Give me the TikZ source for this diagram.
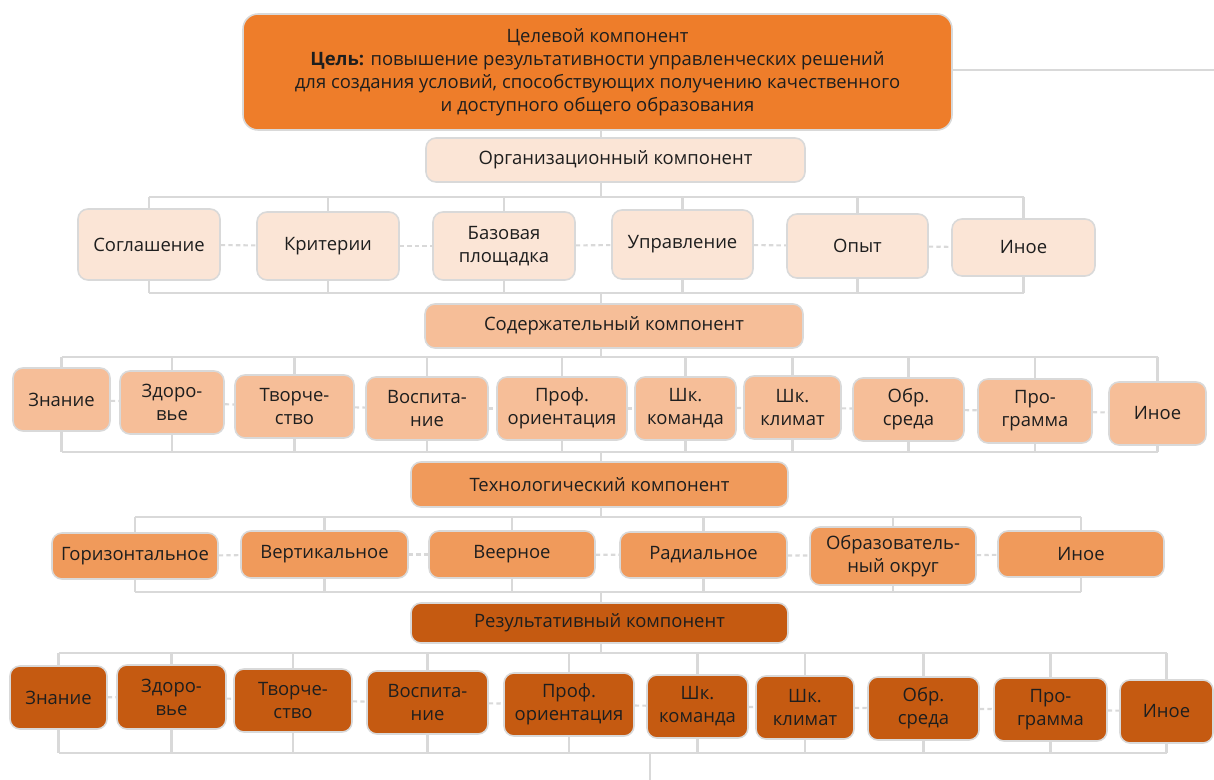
\documentclass[tikz,border=0pt]{standalone}
\usepackage{fontspec}
\setmainfont{Open Sans}
\usepackage{xcolor}
\usepackage{tikz}
\usetikzlibrary{backgrounds}
\definecolor{goalfill}{HTML}{EE7D2A}
\definecolor{orgfill}{HTML}{FBE5D6}
\definecolor{contfill}{HTML}{F6BE98}
\definecolor{techfill}{HTML}{F09A5B}
\definecolor{resfill}{HTML}{C55A11}
\definecolor{linkgray}{HTML}{D9D9D9}
\definecolor{inkgray}{HTML}{1E1E1E}

\begin{document}
\begin{tikzpicture}[x=0.02cm, y=-0.02cm,
  wh/.style 2 args={minimum width=#1*0.02cm, minimum height=#2*0.02cm},
  link/.style={draw=linkgray, line width=1.5pt},
  sib/.style={draw=linkgray, line width=1.2pt, dash pattern=on 2.5pt off 1.8pt}]
\tikzstyle{block} = [rectangle, draw=linkgray, line width=0.9pt, rounded corners=0.2cm, align=center, inner sep=1pt, text=inkgray, font=\fontsize{10.5}{13}\selectfont]
\useasboundingbox (0,0) rectangle (1214,780);

\node[block, wh={709}{116}, fill=goalfill, rounded corners=0.3cm] (goal) at (597.5,72) {Целевой компонент\\\textbf{Цель:} повышение результативности управленческих решений\\для создания условий, способствующих получению качественного\\и доступного общего образования};

\node[block, wh={379}{44}, fill=orgfill] (org) at (615.5,160) {Организационный компонент};
\node[block, wh={142}{71}, fill=orgfill] (a1) at (149,244.5) {Соглашение};
\node[block, wh={142}{68}, fill=orgfill] (a2) at (328,246) {Критерии};
\node[block, wh={142}{68}, fill=orgfill] (a3) at (504,246) {Базовая\\площадка};
\node[block, wh={141}{69}, fill=orgfill] (a4) at (682.5,244.5) {Управление};
\node[block, wh={141}{64}, fill=orgfill] (a5) at (857.5,246) {Опыт};
\node[block, wh={143}{57}, fill=orgfill] (a6) at (1023.5,247.5) {Иное};

\node[block, wh={378}{44}, fill=contfill] (cont) at (614,326) {Содержательный компонент};
\node[block, wh={97}{63}, fill=contfill] (b1) at (61.5,399.5) {Знание};
\node[block, wh={104}{63}, fill=contfill] (b2) at (172,402.5) {Здоро-\\вье};
\node[block, wh={119}{63}, fill=contfill] (b3) at (294.5,406.5) {Творче-\\ство};
\node[block, wh={122}{63}, fill=contfill] (b4) at (427,408.5) {Воспита-\\ние};
\node[block, wh={130}{63}, fill=contfill] (b5) at (562,408.5) {Проф.\\ориентация};
\node[block, wh={101}{63}, fill=contfill] (b6) at (685.5,408.5) {Шк.\\команда};
\node[block, wh={97}{63}, fill=contfill] (b7) at (792.5,407.5) {Шк.\\климат};
\node[block, wh={111}{63}, fill=contfill] (b8) at (908.5,409.5) {Обр.\\среда};
\node[block, wh={114}{64}, fill=contfill] (b9) at (1035,411) {Про-\\грамма};
\node[block, wh={97}{63}, fill=contfill] (b10) at (1157.5,413.5) {Иное};

\node[block, wh={377}{45}, fill=techfill] (tech) at (599.5,484.5) {Технологический компонент};
\node[block, wh={166}{46}, fill=techfill] (c1) at (135,556) {Горизонтальное};
\node[block, wh={167}{47}, fill=techfill] (c2) at (324.5,554.5) {Вертикальное};
\node[block, wh={166}{47}, fill=techfill] (c3) at (512,554.5) {Веерное};
\node[block, wh={167}{46}, fill=techfill] (c4) at (703.5,555) {Радиальное};
\node[block, wh={166}{58}, fill=techfill] (c5) at (893,556) {Образователь-\\ный округ};
\node[block, wh={166}{46}, fill=techfill] (c6) at (1081,554) {Иное};

\node[block, wh={377}{40}, fill=resfill] (res) at (599.5,623) {Результативный компонент};
\node[block, wh={97}{63}, fill=resfill] (d1) at (58.5,697.5) {Знание};
\node[block, wh={109}{64}, fill=resfill] (d2) at (171.5,697) {Здоро-\\вье};
\node[block, wh={118}{63}, fill=resfill] (d3) at (293,700.5) {Творче-\\ство};
\node[block, wh={121}{63}, fill=resfill] (d4) at (427.5,702.5) {Воспита-\\ние};
\node[block, wh={130}{63}, fill=resfill] (d5) at (569,704.5) {Проф.\\ориентация};
\node[block, wh={101}{63}, fill=resfill] (d6) at (697.5,706.5) {Шк.\\команда};
\node[block, wh={98}{63}, fill=resfill] (d7) at (805,707.5) {Шк.\\климат};
\node[block, wh={111}{63}, fill=resfill] (d8) at (923.5,708.5) {Обр.\\среда};
\node[block, wh={113}{63}, fill=resfill] (d9) at (1050.5,709.5) {Про-\\грамма};
\node[block, wh={93}{63}, fill=resfill] (d10) at (1166.5,711.5) {Иное};

\coordinate (sp) at (601,0);
\coordinate (rt) at (1214,0);
\coordinate (out) at (650,780);
\coordinate (t1) at (0,197); \coordinate (u1) at (0,293);
\coordinate (t2) at (0,357); \coordinate (u2) at (0,452);
\coordinate (t3) at (0,517); \coordinate (u3) at (0,592);
\coordinate (t4) at (0,653); \coordinate (u4) at (0,753);

\begin{scope}[on background layer]
\draw[link] (goal.center |- 0,70) -- (rt |- 0,70);
\draw[link] (sp |- goal) -- (sp |- t1);
\draw[link] (a1 |- t1) -- (a6 |- t1) (a1 |- u1) -- (a6 |- u1);
\foreach \n in {a1,a2,a3,a4,a5,a6}
  \draw[link] (\n |- t1) -- (\n |- u1);
\foreach \p/\q in {a1/a2,a2/a3,a3/a4,a4/a5,a5/a6}
  \draw[sib] (\p) -- (\q);
\draw[link] (sp |- u1) -- (sp |- t2);
\draw[link] (b1 |- t2) -- (b10 |- t2) (b1 |- u2) -- (b10 |- u2);
\foreach \n in {b1,b2,b3,b4,b5,b6,b7,b8,b9,b10}
  \draw[link] (\n |- t2) -- (\n |- u2);
\foreach \p/\q in {b1/b2,b2/b3,b3/b4,b4/b5,b5/b6,b6/b7,b7/b8,b8/b9,b9/b10}
  \draw[sib] (\p) -- (\q);
\draw[link] (sp |- u2) -- (sp |- t3);
\draw[link] (c1 |- t3) -- (c6 |- t3) (c1 |- u3) -- (c6 |- u3);
\foreach \n in {c1,c2,c3,c4,c5,c6}
  \draw[link] (\n |- t3) -- (\n |- u3);
\foreach \p/\q in {c1/c2,c2/c3,c3/c4,c4/c5,c5/c6}
  \draw[sib] (\p) -- (\q);
\draw[link] (sp |- u3) -- (sp |- t4);
\draw[link] (d1 |- t4) -- (d10 |- t4) (d1 |- u4) -- (d10 |- u4);
\foreach \n in {d1,d2,d3,d4,d5,d6,d7,d8,d9,d10}
  \draw[link] (\n |- t4) -- (\n |- u4);
\foreach \p/\q in {d1/d2,d2/d3,d3/d4,d4/d5,d5/d6,d6/d7,d7/d8,d8/d9,d9/d10}
  \draw[sib] (\p) -- (\q);
\draw[link] (out |- u4) -- (out);
\end{scope}
\end{tikzpicture}
\end{document}
